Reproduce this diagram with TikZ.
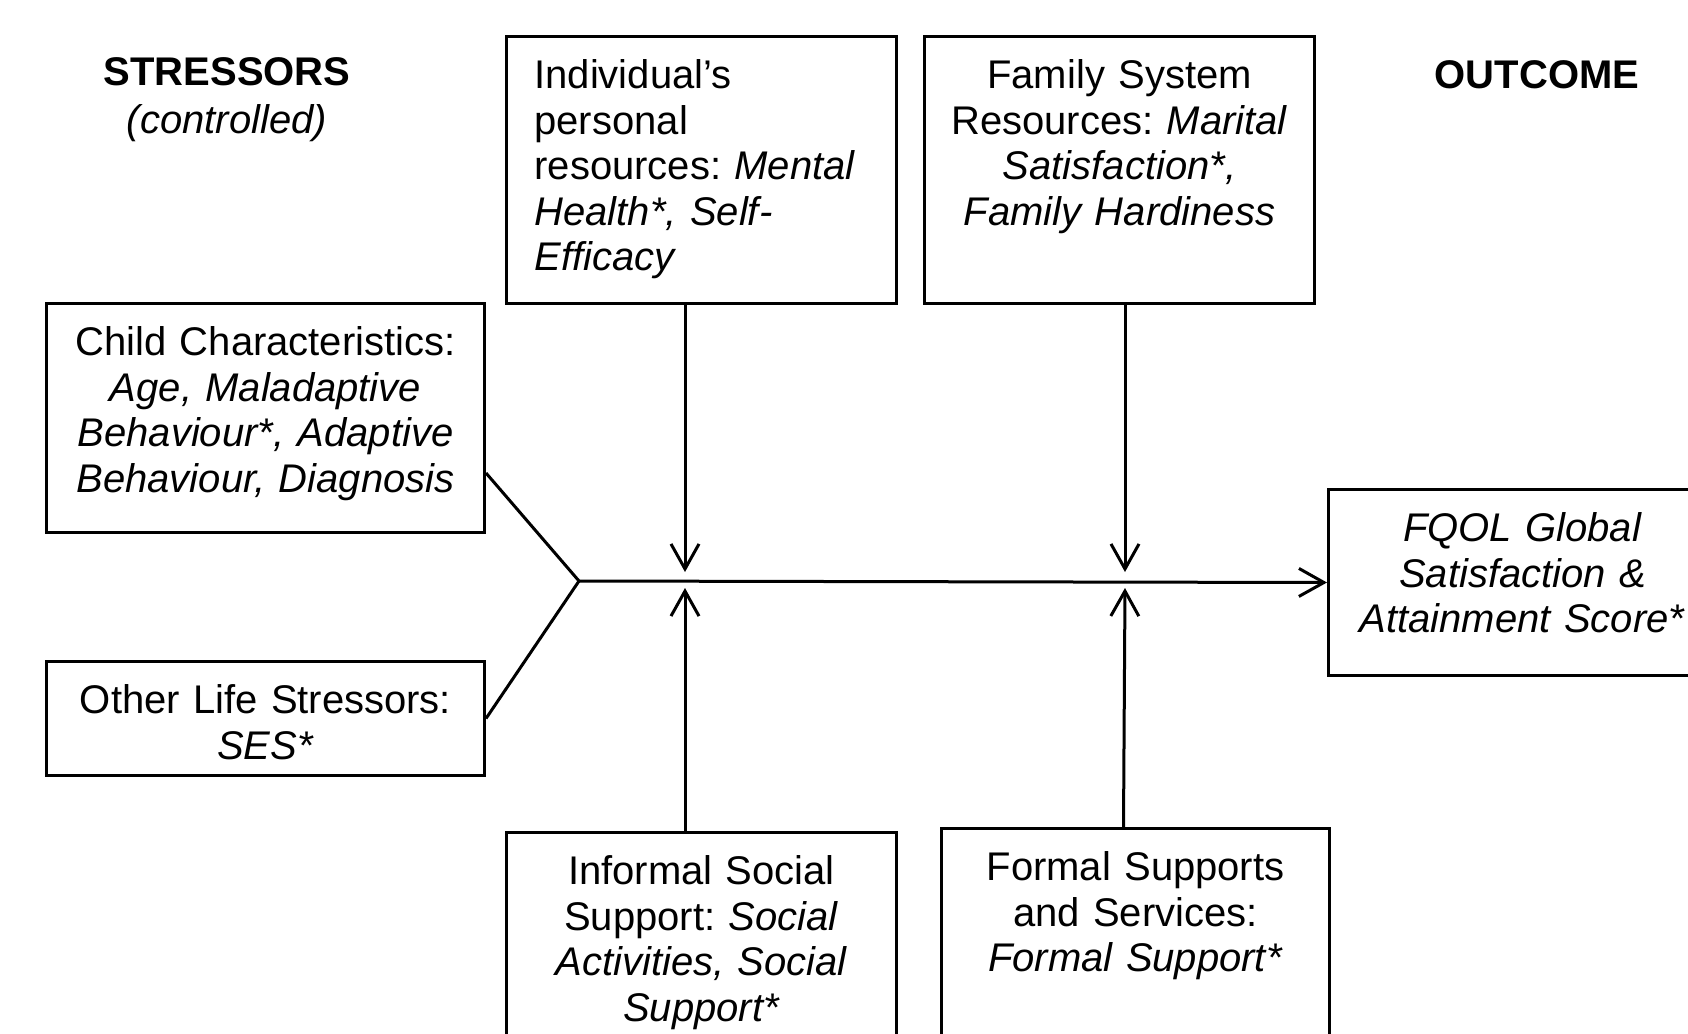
\documentclass[tikz,border=0pt]{standalone}
\usepackage{fontspec}
\setmainfont{Liberation Sans}
\usetikzlibrary{arrows.meta}
\begin{document}
\frenchspacing
\begin{tikzpicture}[x=0.5pt,y=-0.5pt,
  lw/.style={line width=1.5pt},
  txtfont/.style={font=\fontsize{20pt}{22.75pt}\selectfont\frenchspacing},
  box/.style={draw, lw, rectangle, inner sep=0pt, anchor=north west, align=center,
    text height=26pt, txtfont},
  arr/.style={lw, -{Straight Barb[length=12.5pt,width=14pt]}},
  link/.style={lw},
  head/.style={inner sep=0pt, anchor=north, text height=15pt, align=center,
    text width=200pt, txtfont}
]
\useasboundingbox (0,0) rectangle (1688,1034);
\clip (0,0) rectangle (1688,1034);

% headers
\node[head] (hstress) at (227,55) {\textbf{STRESSORS}\\[1.5pt]\textit{(controlled)}};
\node[head] (hout) at (1537,58) {\textbf{OUTCOME}};

% boxes
\node[box, align=left, inner xsep=14pt, text width=167pt, text depth=107.5pt] (ind) at (505,35)
  {Individual’s\\personal\\resources: \textit{Mental}\\\textit{Health*, Self-}\\\textit{Efficacy}};
\node[box, text width=195pt, text depth=107.5pt] (fam) at (923,35)
  {Family System\\Resources: \textit{Marital}\\\textit{Satisfaction*,}\\\textit{Family Hardiness}};
\node[box, text width=219pt, text depth=88.5pt] (child) at (45,302)
  {Child Characteristics:\\\textit{Age, Maladaptive}\\\textit{Behaviour*, Adaptive}\\\textit{Behaviour, Diagnosis}};
\node[box, text width=219pt, text depth=31pt] (other) at (45,660)
  {Other Life Stressors:\\\textit{SES*}};
\node[box, text width=194pt, text depth=67pt] (fqol) at (1327,488)
  {\textit{FQOL Global}\\\textit{Satisfaction \&}\\\textit{Attainment Score*}};
\node[box, text width=195pt, text depth=107.5pt] (inf) at (505,831)
  {Informal Social\\Support: \textit{Social}\\\textit{Activities, Social}\\\textit{Support*}};
\node[box, text width=194pt, text depth=107.5pt] (form) at (940,827)
  {Formal Supports\\and Services:\\\textit{Formal Support*}};

% connectors
\coordinate (j) at (579,581);
\coordinate (t1) at (685,572);
\coordinate (t2) at (1125,572);
\coordinate (t3) at (685,588);
\coordinate (t4) at (1125,588);

\draw[link] ([yshift=30.5pt]child.south east) -- (j);
\draw[link] (other.east) -- (j);
\draw[arr] (j) -- (fqol.west);
\draw[arr] (t1 |- ind.south) -- (t1);
\draw[arr] (t2 |- fam.south) -- (t2);
\draw[arr] (t3 |- inf.north) -- (t3);
\draw[arr] ([xshift=-6pt]form.north) -- (t4);
\end{tikzpicture}
\end{document}
